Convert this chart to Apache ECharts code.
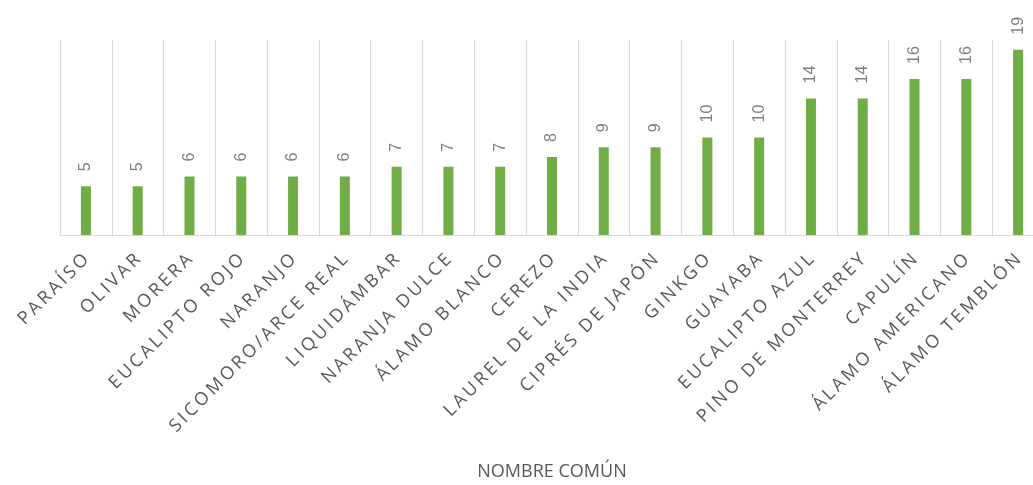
<!DOCTYPE html>
<html>
<head>
<meta charset="utf-8">
<script src="https://cdn.jsdelivr.net/npm/echarts@6/dist/echarts.min.js"></script>
<style>
    html, body { margin: 0; padding: 0; background: #fff; }
    #chart { width: 1033px; height: 485px; }
</style>
</head>
<body>
<div id="chart"></div>
<script>
    // nombres de árboles
    var categories = ['PARAÍSO', 'OLIVAR', 'MORERA', 'EUCALIPTO ROJO', 'NARANJO',
        'SICOMORO/ARCE REAL', 'LIQUIDÁMBAR', 'NARANJA DULCE', 'ÁLAMO BLANCO', 'CEREZO',
        'LAUREL DE LA INDIA', 'CIPRÉS DE JAPÓN', 'GINKGO', 'GUAYABA', 'EUCALIPTO AZUL',
        'PINO DE MONTERREY', 'CAPULÍN', 'ÁLAMO AMERICANO', 'ÁLAMO TEMBLÓN'];
    var values = [5, 5, 6, 6, 6, 6, 7, 7, 7, 8, 9, 9, 10, 10, 14, 14, 16, 16, 19];
    var axisName = 'NOMBRE COMÚN';

    var chart = echarts.init(document.getElementById('chart'));
    chart.setOption({
        animation: false,
        grid: { left: 60, right: -11, top: 40, bottom: 250, outerBoundsMode: 'none', containLabel: false },
        xAxis: {
            type: 'category',
            data: categories,
            name: axisName,
            nameLocation: 'middle',
            nameGap: 228,
            nameTextStyle: { color: '#595959', fontSize: 18, fontFamily: 'Open Sans' },
            axisLine: { lineStyle: { color: '#d9d9d9', width: 1 } },
            axisTick: { show: false },
            splitLine: { show: true, interval: 0, lineStyle: { color: '#d9d9d9', width: 1 } },
            axisLabel: {
                interval: 0,
                rotate: 45,
                margin: 22,
                color: '#595959',
                fontSize: 18,
                fontFamily: 'Open Sans',
                // espaciado entre letras
                formatter: function (v) { return v.split('').join('\u2006'); }
            }
        },
        yAxis: {
            type: 'value',
            min: 0,
            max: 20,
            show: false
        },
        series: [{
            type: 'bar',
            data: values,
            barWidth: 10,
            itemStyle: { color: '#70ad47' },
            label: {
                show: true,
                position: 'top',
                rotate: 90,
                align: 'left',
                verticalAlign: 'middle',
                distance: 15,
                color: '#7f7f7f',
                fontSize: 16,
                fontFamily: 'Liberation Sans'
            }
        }]
    });
</script>
</body>
</html>
